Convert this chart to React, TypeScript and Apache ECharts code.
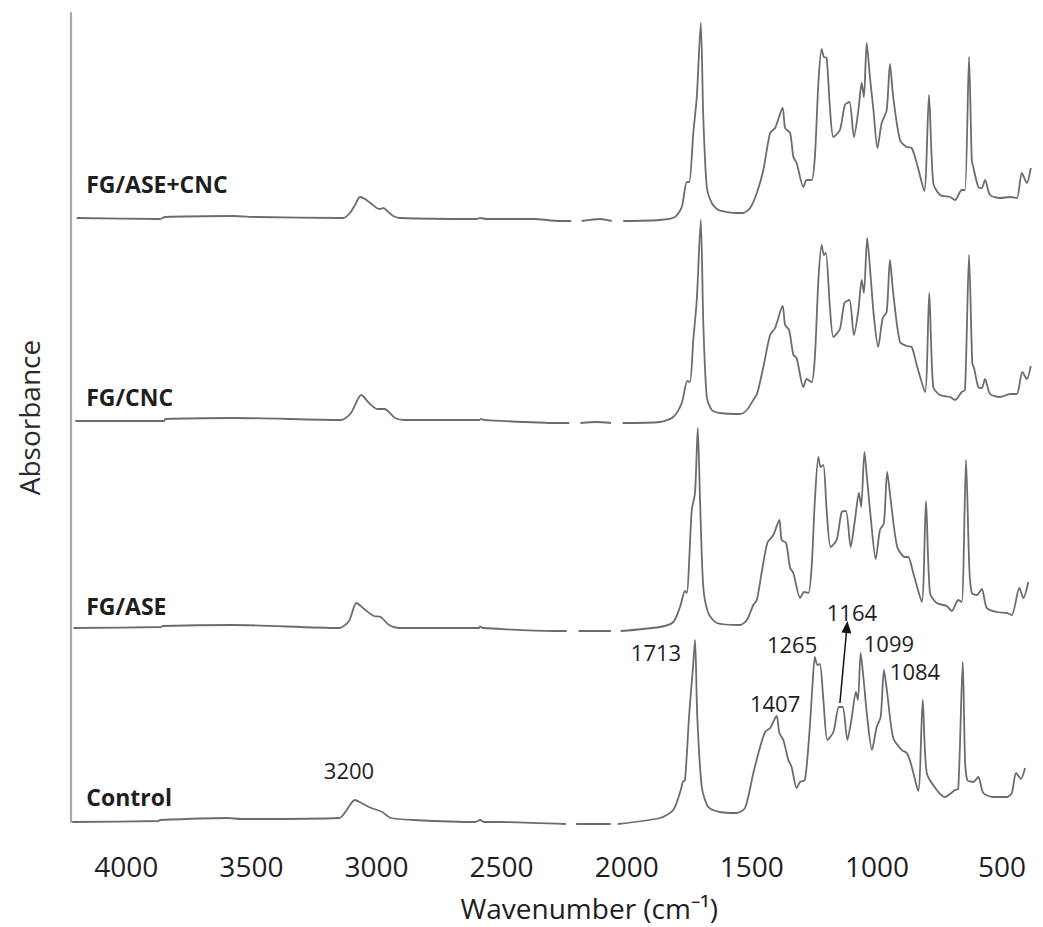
import React, { useEffect, useRef } from "react";
import * as echarts from "echarts";

type Pt = [number, number | null];

// Wavenumber (cm-1), absorbance (a.u., relative to each trace's own baseline)
const fgAseCncSpectrum: Pt[] = [
  [4198, 0.04], [3865, 0.03], [3845, 0.05], [3572, 0.06], [3479, 0.05], [3146, 0.04], [3133, 0.04],
  [3106, 0.09], [3086, 0.17], [3066, 0.25], [3046, 0.23], [3019, 0.18], [2999, 0.14], [2986, 0.13],
  [2973, 0.14], [2953, 0.1], [2933, 0.06], [2906, 0.04], [2600, 0.03], [2586, 0.04], [2560, 0.03],
  [2373, 0.03], [2267, 0.01], [2222, 0.01], [2200, null], [2180, 0.01], [2107, 0.03], [2060, 0.01],
  [2035, null], [2014, 0.01], [1867, 0.02], [1807, 0.05], [1780, 0.15], [1760, 0.4], [1750, 0.4],
  [1734, 0.89], [1720, 1.25], [1704, 1.99], [1694, 1.05], [1680, 0.35], [1660, 0.19], [1634, 0.12],
  [1560, 0.09], [1535, 0.09], [1507, 0.14], [1480, 0.29], [1454, 0.52], [1427, 0.89], [1407, 0.94],
  [1377, 1.14], [1367, 0.94], [1347, 0.89], [1334, 0.65], [1321, 0.59], [1294, 0.35], [1281, 0.42],
  [1261, 0.42], [1248, 0.65], [1234, 1.39], [1221, 1.73], [1212, 1.65], [1201, 1.64], [1188, 1.15],
  [1174, 0.85], [1148, 0.92], [1128, 1.17], [1110, 1.2], [1092, 0.85], [1074, 1.12], [1061, 1.39],
  [1052, 1.25], [1041, 1.79], [1028, 1.45], [1014, 1.12], [998, 0.74], [981, 0.99], [961, 1.12],
  [948, 1.58], [935, 1.25], [908, 0.82], [881, 0.75], [861, 0.74], [841, 0.59], [811, 0.31],
  [792, 1.27], [775, 0.39], [748, 0.27], [708, 0.25], [688, 0.22], [661, 0.32], [648, 0.32],
  [632, 1.65], [621, 0.62], [615, 0.55], [595, 0.35], [581, 0.34], [568, 0.42], [548, 0.27],
  [508, 0.24], [468, 0.25], [441, 0.24], [421, 0.49], [401, 0.39], [385, 0.54],
];

const fgCncSpectrum: Pt[] = [
  [4204, 0.01], [3849, 0.01], [3844, 0.03], [3561, 0.04], [3141, 0.02], [3102, 0.09], [3061, 0.27],
  [3026, 0.18], [2996, 0.13], [2968, 0.13], [2926, 0.04], [2888, 0.02], [2590, 0.02], [2582, 0.03],
  [2570, 0.02], [2277, -0.01], [2230, -0.01], [2205, null], [2185, -0.01], [2120, 0.0], [2063, -0.01],
  [2040, null], [2016, -0.01], [1867, 0.0], [1814, 0.05], [1780, 0.19], [1758, 0.41], [1747, 0.4],
  [1734, 0.82], [1720, 1.22], [1704, 2.02], [1694, 0.99], [1680, 0.25], [1660, 0.12], [1627, 0.09],
  [1547, 0.08], [1520, 0.12], [1494, 0.22], [1478, 0.29], [1454, 0.55], [1427, 0.87], [1407, 0.94],
  [1377, 1.16], [1367, 0.97], [1351, 0.92], [1334, 0.67], [1321, 0.64], [1294, 0.35], [1281, 0.43],
  [1261, 0.4], [1248, 0.65], [1234, 1.42], [1221, 1.77], [1212, 1.67], [1204, 1.69], [1188, 1.15],
  [1174, 0.85], [1148, 0.93], [1130, 1.19], [1110, 1.22], [1092, 0.87], [1074, 1.12], [1061, 1.42],
  [1052, 1.29], [1039, 1.84], [1025, 1.45], [1012, 1.05], [995, 0.75], [977, 1.04], [961, 1.1],
  [948, 1.62], [935, 1.29], [908, 0.8], [881, 0.76], [861, 0.75], [841, 0.57], [808, 0.3],
  [791, 1.29], [775, 0.35], [748, 0.27], [708, 0.25], [688, 0.22], [661, 0.3], [648, 0.32],
  [632, 1.67], [619, 0.59], [612, 0.54], [595, 0.35], [581, 0.34], [568, 0.43], [548, 0.28],
  [508, 0.25], [468, 0.28], [441, 0.28], [419, 0.5], [401, 0.43], [385, 0.56],
];

const fgAseSpectrum: Pt[] = [
  [4211, 0.04], [3860, 0.05], [3855, 0.06], [3577, 0.07], [3148, 0.04], [3110, 0.11], [3080, 0.29],
  [3049, 0.23], [3011, 0.16], [2983, 0.15], [2950, 0.07], [2911, 0.04], [2590, 0.04], [2586, 0.055],
  [2575, 0.04], [2292, 0.01], [2240, 0.01], [2215, null], [2192, 0.01], [2063, 0.01], [2045, null],
  [2024, 0.01], [1867, 0.05], [1814, 0.1], [1787, 0.25], [1767, 0.41], [1760, 0.39], [1740, 1.22],
  [1727, 1.39], [1716, 2.04], [1707, 1.32], [1694, 0.45], [1674, 0.19], [1640, 0.09], [1547, 0.07],
  [1520, 0.12], [1494, 0.27], [1480, 0.32], [1461, 0.59], [1438, 0.89], [1414, 0.97], [1390, 1.12],
  [1381, 0.92], [1363, 0.89], [1347, 0.64], [1334, 0.59], [1307, 0.34], [1291, 0.4], [1274, 0.39],
  [1261, 0.65], [1248, 1.32], [1234, 1.75], [1225, 1.65], [1214, 1.67], [1201, 1.22], [1185, 0.85],
  [1161, 0.92], [1141, 1.2], [1124, 1.21], [1105, 0.85], [1088, 1.12], [1072, 1.39], [1063, 1.25],
  [1050, 1.8], [1039, 1.52], [1025, 1.15], [1005, 0.73], [988, 1.02], [972, 1.09], [959, 1.6],
  [945, 1.32], [919, 0.85], [888, 0.75], [875, 0.75], [855, 0.59], [821, 0.3], [804, 1.31],
  [788, 0.39], [761, 0.29], [721, 0.26], [701, 0.21], [675, 0.32], [661, 0.3], [644, 1.72],
  [631, 0.65], [621, 0.39], [601, 0.37], [581, 0.43], [561, 0.24], [521, 0.2], [481, 0.19],
  [461, 0.17], [431, 0.44], [415, 0.34], [395, 0.5],
];

const controlSpectrum: Pt[] = [
  [4216, 0.0], [3872, 0.01], [3865, 0.02], [3597, 0.04], [3541, 0.03], [3149, 0.04], [3122, 0.11],
  [3087, 0.22], [3060, 0.19], [3025, 0.145], [2998, 0.12], [2977, 0.1], [2943, 0.04], [2853, 0.02],
  [2606, 0.0], [2585, 0.02], [2570, 0.0], [2506, 0.0], [2243, -0.02], [2220, null], [2202, -0.02],
  [2064, -0.02], [2050, null], [2036, -0.02], [1867, 0.04], [1814, 0.12], [1784, 0.32], [1776, 0.4],
  [1767, 0.42], [1750, 1.09], [1736, 1.52], [1727, 1.82], [1718, 1.05], [1700, 0.35], [1674, 0.15],
  [1627, 0.1], [1560, 0.09], [1527, 0.14], [1494, 0.49], [1467, 0.75], [1447, 0.9], [1427, 0.94],
  [1401, 1.06], [1390, 0.89], [1374, 0.82], [1354, 0.62], [1341, 0.55], [1321, 0.34], [1307, 0.4],
  [1288, 0.42], [1270, 0.89], [1258, 1.35], [1248, 1.65], [1238, 1.57], [1228, 1.58], [1214, 1.22],
  [1198, 0.82], [1174, 0.9], [1152, 1.15], [1137, 1.15], [1118, 0.82], [1101, 1.04], [1084, 1.3],
  [1076, 1.22], [1065, 1.69], [1052, 1.39], [1039, 1.05], [1020, 0.72], [1001, 0.95], [985, 1.05],
  [972, 1.52], [959, 1.29], [935, 0.84], [901, 0.72], [881, 0.69], [865, 0.59], [835, 0.31],
  [817, 1.22], [801, 0.49], [761, 0.32], [728, 0.25], [688, 0.32], [675, 0.33], [657, 1.6],
  [648, 0.62], [639, 0.42], [615, 0.4], [595, 0.45], [575, 0.29], [535, 0.25], [481, 0.25],
  [461, 0.29], [444, 0.49], [425, 0.43], [408, 0.54],
];

const seriesNames = ["FG/ASE+CNC", "FG/CNC", "FG/ASE", "Control"];
const spectra = [fgAseCncSpectrum, fgCncSpectrum, fgAseSpectrum, controlSpectrum];
const stackOffsets = [6.0, 4.0, 1.9, 0];
// series name label anchor: [wavenumber, stacked absorbance]
const seriesLabelAt: [number, number][] = [
  [4160, 6.38],
  [4160, 4.25],
  [4160, 2.165],
  [4160, 0.255],
];

// peak annotations: [text, wavenumber, stacked absorbance]
const peakLabels: [string, number, number][] = [
  ["3200", 3110, 0.52],
  ["1713", 1883, 1.7],
  ["1407", 1407, 1.19],
  ["1265", 1339, 1.78],
  ["1164", 1100, 2.1],
  ["1099", 952, 1.79],
  ["1084", 848, 1.51],
];
// arrow for 1164: from [wavenumber, value] to [wavenumber, value]
const arrowFrom: [number, number] = [1148, 1.19];
const arrowTo: [number, number] = [1120, 1.95];

const xTickLabels = [4000, 3500, 3000, 2500, 2000, 1500, 1000, 500];

const FONT = "Open Sans";
const TEXT = "#1e1e1e";
const TRACE = "#6c6c6c";

export default function App() {
  const ref = useRef<HTMLDivElement>(null);

  useEffect(() => {
    if (!ref.current) return;
    const chart = echarts.init(ref.current, undefined, { renderer: "svg" });

    const series: any[] = spectra.map((spec, i) => {
      const off = stackOffsets[i];
      const s: any = {
        name: seriesNames[i],
        type: "line",
        showSymbol: false,
        symbol: "none",
        connectNulls: false,
        smooth: 0.25,
        clip: false,
        lineStyle: { color: TRACE, width: 1.8 },
        data: spec.map(([w, a]) => [w, a === null ? "-" : a + off]),
        markPoint: {
          symbol: "circle",
          symbolSize: 0,
          itemStyle: { color: "rgba(0,0,0,0)" },
          label: {
            show: true,
            position: "inside",
            align: "left",
            verticalAlign: "middle",
            fontFamily: FONT,
            fontWeight: "bold",
            fontSize: 23,
            color: TEXT,
            formatter: () => seriesNames[i],
          },
          data: [{ coord: seriesLabelAt[i], value: 0 }],
        },
      };
      if (i === 3) {
        s.markPoint.data.push(
          ...peakLabels.map(([t, w, v]) => ({
            coord: [w, v],
            value: 0,
            label: {
              show: true,
              position: "inside",
              align: "center",
              verticalAlign: "middle",
              fontFamily: FONT,
              fontWeight: "normal",
              fontSize: 22,
              color: TEXT,
              formatter: () => t,
            },
          }))
        );
        s.markLine = {
          silent: true,
          symbol: ["none", "triangle"],
          symbolSize: [10, 12],
          label: { show: false },
          lineStyle: { color: "#111", width: 1.5, type: "solid" },
          data: [[{ coord: arrowFrom }, { coord: arrowTo }]],
        };
      }
      return s;
    });

    chart.setOption({
      animation: false,
      backgroundColor: "#ffffff",
      grid: { left: 71.23, right: 5.92, top: 13, bottom: 105, containLabel: false },
      xAxis: {
        type: "value",
        inverse: true,
        min: 360,
        max: 4220,
        interval: 20,
        axisLine: { show: false },
        axisTick: { show: false },
        splitLine: { show: false },
        axisLabel: {
          margin: 30,
          fontSize: 28,
          lineHeight: 28,
          fontFamily: FONT,
          color: TEXT,
          formatter: (v: number) => {
            const r = Math.round(v);
            return xTickLabels.includes(r) ? String(r) : "";
          },
        },
        name: "Wavenumber (cm\u207B\u00B9)",
        nameLocation: "middle",
        nameGap: 72,
        nameTextStyle: {
          fontSize: 28,
          fontFamily: FONT,
          color: TEXT,
          padding: [0, 0, 0, 70],
        },
      },
      yAxis: {
        type: "value",
        min: 0,
        max: 8.09,
        axisLine: { show: true, onZero: false, lineStyle: { color: "#a8a8a8", width: 2.2 } },
        axisTick: { show: false },
        axisLabel: { show: false },
        splitLine: { show: false },
        name: "Absorbance",
        nameLocation: "middle",
        nameGap: 28,
        nameTextStyle: { fontSize: 28, fontFamily: FONT, color: "#2a2a2a" },
      },
      series,
    });

    return () => chart.dispose();
  }, []);

  return (
    <div
      ref={ref}
      style={{ position: "fixed", left: 0, top: 0, width: 1043, height: 927, background: "#fff" }}
    />
  );
}
